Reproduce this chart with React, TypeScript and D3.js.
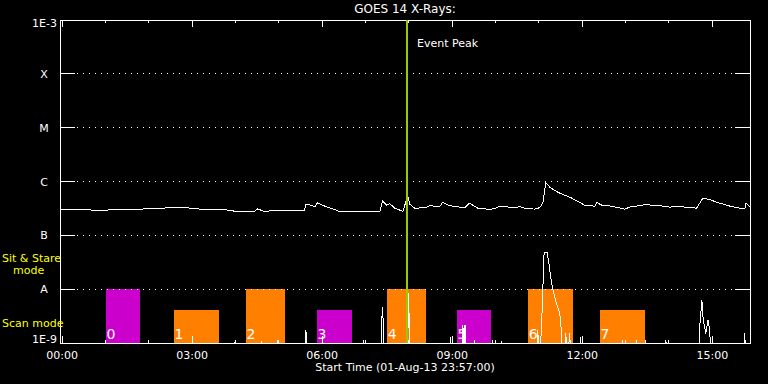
import React from 'react';
import * as d3 from 'd3';

// GOES 14 long channel (1-8 A), hours from 00:00, flux W/m^2
const longHours = [-0.06, 0.17, 0.4, 0.75, 0.98, 1.32, 1.79, 2.13, 2.36, 2.52, 2.82, 3.06, 3.29, 3.75, 3.98, 4.44, 4.51, 4.67, 4.9, 5.36, 5.59, 5.62, 5.76, 5.83, 5.89, 6.06, 6.29, 6.4, 7.33, 7.39, 7.49, 7.56, 7.67, 7.79, 7.86, 7.9, 7.97, 8.02, 8.13, 8.37, 8.48, 8.71, 8.78, 8.94, 9.17, 9.29, 9.4, 9.59, 9.86, 9.98, 10.09, 10.21, 10.44, 10.56, 10.67, 10.9, 11.02, 11.09, 11.16, 11.25, 11.37, 11.48, 11.71, 11.94, 12.06, 12.29, 12.34, 12.45, 12.68, 12.98, 13.1, 13.33, 13.45, 13.79, 14.02, 14.25, 14.53, 14.64, 14.78, 14.94, 15.17, 15.41, 15.64, 15.75, 15.78, 15.87];
const longFlux = [3.0e-7, 3.07e-7, 3.0e-7, 2.94e-7, 2.94e-7, 3.0e-7, 3.07e-7, 3.13e-7, 3.2e-7, 3.35e-7, 3.3e-7, 3.13e-7, 3.03e-7, 3.0e-7, 2.81e-7, 2.81e-7, 3.1e-7, 2.75e-7, 2.94e-7, 2.87e-7, 2.87e-7, 3.71e-7, 3.64e-7, 3.35e-7, 4.05e-7, 3.48e-7, 3.0e-7, 2.75e-7, 2.75e-7, 4.39e-7, 3.64e-7, 3.88e-7, 3.2e-7, 2.94e-7, 2.81e-7, 3.48e-7, 5.6e-7, 3.8e-7, 3.2e-7, 3.24e-7, 3.56e-7, 3.41e-7, 4.11e-7, 3.56e-7, 3.35e-7, 3.27e-7, 3.96e-7, 3.2e-7, 3.03e-7, 3.13e-7, 3.48e-7, 3.41e-7, 3.27e-7, 3.41e-7, 3.2e-7, 3.07e-7, 3.27e-7, 3.96e-7, 9.5e-7, 7.85e-7, 6.76e-7, 6.08e-7, 5.12e-7, 4.13e-7, 3.6e-7, 3.48e-7, 4.05e-7, 3.64e-7, 3.48e-7, 3.07e-7, 3.35e-7, 3.56e-7, 3.71e-7, 3.56e-7, 3.35e-7, 3.41e-7, 3.27e-7, 3.2e-7, 4.9e-7, 4.6e-7, 3.96e-7, 3.48e-7, 3.2e-7, 3.13e-7, 3.96e-7, 3.35e-7];

// short channel (0.5-4 A), mostly below 1E-9
const shortHours = [-0.06, 3.97, 3.99, 4.01, 4.58, 4.6, 4.62, 4.95, 4.97, 4.99, 5.6, 5.62, 5.64, 5.66, 6.94, 6.96, 6.98, 7.35, 7.37, 7.39, 7.41, 7.44, 7.97, 7.99, 8.01, 8.03, 8.94, 8.96, 8.98, 9.22, 9.24, 9.26, 9.27, 9.28, 9.3, 9.32, 9.5, 9.52, 9.54, 9.91, 9.93, 9.95, 10.12, 10.14, 10.16, 10.95, 10.97, 11.02, 11.06, 11.09, 11.12, 11.19, 11.23, 11.29, 11.38, 11.48, 11.51, 11.54, 11.6, 11.62, 11.66, 11.71, 11.74, 11.94, 11.96, 11.98, 12.91, 12.93, 12.95, 13.24, 13.26, 13.28, 13.44, 13.46, 13.48, 13.91, 13.93, 13.95, 14.69, 14.71, 14.76, 14.79, 14.85, 14.9, 14.94, 14.97, 15.73, 15.75, 15.77, 15.87];
const shortFlux = [5e-10, 5e-10, 1.14e-9, 5e-10, 5e-10, 1.1e-9, 5e-10, 5e-10, 1.14e-9, 5e-10, 5e-10, 1.74e-9, 1.29e-9, 5e-10, 5e-10, 1.14e-9, 5e-10, 5e-10, 2.16e-9, 4.67e-9, 2.2e-9, 5e-10, 5e-10, 8.5e-9, 2.2e-9, 5e-10, 5e-10, 1.29e-9, 5e-10, 5e-10, 2.2e-9, 1.5e-9, 5e-10, 2.0e-9, 2.2e-9, 5e-10, 5e-10, 1.14e-9, 5e-10, 5e-10, 1.14e-9, 5e-10, 5e-10, 1.1e-9, 5e-10, 5e-10, 1.74e-9, 5e-10, 2.0e-9, 9.6e-9, 4.8e-8, 4.8e-8, 3.05e-8, 1.3e-8, 6.3e-9, 3.6e-9, 2.0e-9, 5e-10, 5e-10, 1.5e-9, 5e-10, 1.5e-9, 5e-10, 5e-10, 1.29e-9, 5e-10, 5e-10, 1.14e-9, 5e-10, 5e-10, 1.14e-9, 5e-10, 5e-10, 1.14e-9, 5e-10, 5e-10, 1.14e-9, 5e-10, 5e-10, 2.0e-9, 6.3e-9, 2.67e-9, 1.5e-9, 2.67e-9, 1.74e-9, 5e-10, 5e-10, 1.53e-9, 5e-10, 5e-10];

// observation windows
const obsLabels = ['0', '1', '2', '3', '4', '5', '6', '7'];
const obsStart = [1.0, 2.57, 4.23, 5.87, 7.49, 9.1, 10.74, 12.4];
const obsEnd = [1.79, 3.61, 5.13, 6.68, 8.39, 9.89, 11.78, 13.44];
const obsMode = ['sit', 'scan', 'sit', 'scan', 'sit', 'scan', 'sit', 'scan'];
const obsColor = ['#cc00cc', '#ff8000', '#ff8000', '#cc00cc', '#ff8000', '#cc00cc', '#ff8000', '#ff8000'];

const classLevels = [1e-4, 1e-5, 1e-6, 1e-7, 1e-8];
const classLabels = ['X', 'M', 'C', 'B', 'A'];
const majorHours = [0, 3, 6, 9, 12, 15];
const majorLabels = ['00:00', '03:00', '06:00', '09:00', '12:00', '15:00'];
const minorHours = [1, 2, 4, 5, 7, 8, 10, 11, 13, 14];
const eventPeakHour = 7.95;

const W = 768;
const H = 384;
const L = 60, R = 750, T = 20, B = 343;
const FONT = 'DejaVu Sans, sans-serif';

export default function App() {
  const x = d3.scaleLinear().domain([-0.05, 15.87]).range([L, R]);
  const y = d3.scaleLog().domain([1e-9, 1e-3]).range([B, T]);

  const longLine = d3.line<number>()
    .x((_, i) => x(longHours[i]))
    .y(d => y(d));
  const shortLine = d3.line<number>()
    .x((_, i) => x(shortHours[i]))
    .y(d => y(d));

  const modeTop = (m: string) => (m === 'sit' ? y(1e-8) : y(4.1e-9));

  return (
    <svg width={W} height={H} style={{ position: 'absolute', left: 0, top: 0, background: '#000' }}
      fontFamily={FONT} shapeRendering="crispEdges">
      <rect x={0} y={0} width={W} height={H} fill="#000" />
      <defs>
        <clipPath id="plot">
          <rect x={L} y={T} width={R - L} height={B - T} />
        </clipPath>
      </defs>

      <text x={405} y={13} fill="#fff" fontSize={12} textAnchor="middle">GOES 14 X-Rays:</text>

      {/* observation bars */}
      {obsLabels.map((lab, i) => (
        <g key={lab}>
          <rect x={x(obsStart[i])} y={modeTop(obsMode[i])} width={x(obsEnd[i]) - x(obsStart[i])}
            height={B - modeTop(obsMode[i])} fill={obsColor[i]} />
          <text x={x(obsStart[i]) + 1} y={339} fill="#fff" fontSize={14}>{lab}</text>
        </g>
      ))}

      {/* class grid */}
      {classLevels.map((lv, i) => (
        <g key={classLabels[i]}>
          <line x1={L} x2={L + 15} y1={y(lv)} y2={y(lv)} stroke="#fff" />
          <line x1={R - 15} x2={R} y1={y(lv)} y2={y(lv)} stroke="#fff" />
          <line x1={L + 17} x2={R - 15} y1={y(lv)} y2={y(lv)} stroke="#fff" strokeDasharray="1,5" />
          <text x={44} y={y(lv) + 4} fill="#fff" fontSize={11} textAnchor="middle">{classLabels[i]}</text>
        </g>
      ))}
      <text x={57} y={27} fill="#fff" fontSize={11} textAnchor="end">1E-3</text>
      <text x={57} y={343} fill="#fff" fontSize={11} textAnchor="end">1E-9</text>

      {/* curves */}
      <g clipPath="url(#plot)">
        <path d={shortLine(shortFlux) || ''} fill="none" stroke="#fff" strokeWidth={1} />
        <path d={longLine(longFlux) || ''} fill="none" stroke="#fff" strokeWidth={1} />
      </g>

      {/* frame and ticks */}
      <rect x={L} y={T} width={R - L} height={B - T} fill="none" stroke="#fff" strokeWidth={1} />
      {majorHours.map((h, i) => (
        <g key={h}>
          <line x1={x(h)} x2={x(h)} y1={T} y2={T + 7} stroke="#fff" />
          <line x1={x(h)} x2={x(h)} y1={B} y2={B - 7} stroke="#fff" />
          <text x={x(h)} y={359} fill="#fff" fontSize={11} textAnchor="middle">{majorLabels[i]}</text>
        </g>
      ))}
      {minorHours.map(h => (
        <g key={h}>
          <line x1={x(h)} x2={x(h)} y1={T} y2={T + 3} stroke="#fff" />
          <line x1={x(h)} x2={x(h)} y1={B} y2={B - 3} stroke="#fff" />
        </g>
      ))}

      {/* event peak */}
      <line x1={x(eventPeakHour)} x2={x(eventPeakHour)} y1={T} y2={B} stroke="#99cc00" strokeWidth={2} />
      <text x={417} y={47} fill="#fff" fontSize={11}>Event Peak</text>

      <text x={405} y={371} fill="#fff" fontSize={11} textAnchor="middle">Start Time (01-Aug-13 23:57:00)</text>

      <text x={2} y={262} fill="#ffff00" fontSize={11}>Sit &amp; Stare</text>
      <text x={13} y={274} fill="#ffff00" fontSize={11}>mode</text>
      <text x={2} y={327} fill="#ffff00" fontSize={11}>Scan mode</text>
    </svg>
  );
}
